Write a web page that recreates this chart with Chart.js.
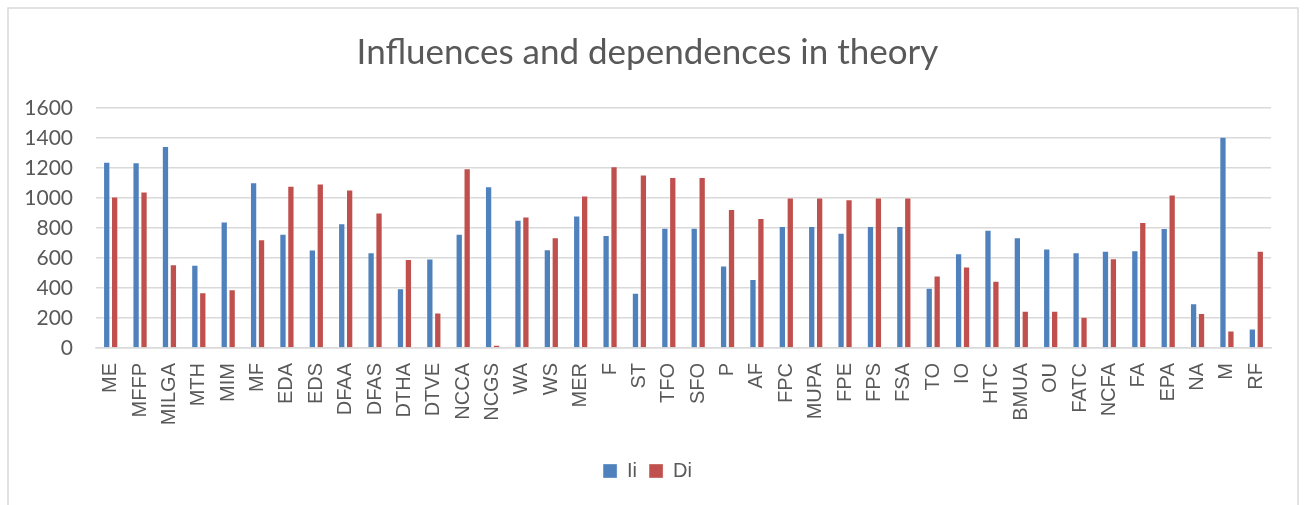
<!DOCTYPE html>
<html>
<head>
<meta charset="utf-8">
<script src="https://cdn.jsdelivr.net/npm/chart.js@4/dist/chart.umd.min.js"></script>
<style>
  html, body { margin: 0; padding: 0; background: #ffffff; }
  #wrap { position: relative; width: 1306px; height: 505px; }
</style>
</head>
<body>
<div id="wrap"><canvas id="chart" width="1306" height="505"></canvas></div>
<script>
const categories = ['ME','MFFP','MILGA','MTH','MIM','MF','EDA','EDS','DFAA','DFAS',
  'DTHA','DTVE','NCCA','NCGS','WA','WS','MER','F','ST','TFO',
  'SFO','P','AF','FPC','MUPA','FPE','FPS','FSA','TO','IO',
  'HTC','BMUA','OU','FATC','NCFA','FA','EPA','NA','M','RF'];

const influenceIi = [1242,1238,1346,555,844,1105,762,656,831,639,
  398,597,762,1078,855,659,884,754,369,802,
  802,550,460,813,813,769,813,813,402,632,
  789,738,663,639,648,652,800,298,1408,130];

const dependenceDi = [1010,1043,559,371,391,725,1081,1096,1056,904,
  594,236,1198,22,877,738,1017,1211,1156,1140,
  1140,926,866,1003,1003,992,1003,1003,484,544,
  449,248,248,208,599,840,1023,234,117,648];

const yTicks = [0,200,400,600,800,1000,1200,1400,1600];

const textGrey = '#595959';
const gridGrey = '#d9d9d9';

// white background plus the light outer frame of the chart
const framePlugin = {
  id: 'frame',
  beforeDraw(chart) {
    const ctx = chart.ctx;
    ctx.save();
    ctx.fillStyle = '#ffffff';
    ctx.fillRect(0, 0, chart.width, chart.height);
    ctx.strokeStyle = gridGrey;
    ctx.lineWidth = 1.5;
    ctx.strokeRect(8, 8, 1290, 520);
    ctx.restore();
  }
};

new Chart(document.getElementById('chart'), {
  type: 'bar',
  data: {
    labels: categories,
    datasets: [
      {
        label: 'Ii',
        data: influenceIi,
        backgroundColor: '#4F81BD',
        borderColor: 'rgba(255,255,255,0.35)',
        borderWidth: 1,
        categoryPercentage: 0.54,
        barPercentage: 0.92
      },
      {
        label: 'Di',
        data: dependenceDi,
        backgroundColor: '#C0504D',
        borderColor: 'rgba(255,255,255,0.35)',
        borderWidth: 1,
        categoryPercentage: 0.54,
        barPercentage: 0.92
      }
    ]
  },
  options: {
    responsive: false,
    animation: false,
    devicePixelRatio: 1,
    layout: { padding: { left: 24, right: 35, top: 0, bottom: 14 } },
    plugins: {
      title: {
        display: true,
        text: 'Influences and dependences in theory',
        color: textGrey,
        font: { family: 'Lato', size: 35, weight: '400' },
        padding: { top: 32, bottom: 34 }
      },
      legend: {
        display: true,
        position: 'bottom',
        labels: {
          color: textGrey,
          font: { family: 'Liberation Sans', size: 20 },
          boxWidth: 14,
          boxHeight: 14,
          padding: 12
        }
      },
      tooltip: { enabled: false }
    },
    scales: {
      x: {
        grid: { display: false, drawTicks: false },
        border: { display: true, color: gridGrey, width: 1.5 },
        ticks: {
          color: textGrey,
          font: { family: 'Liberation Sans', size: 20 },
          minRotation: 90,
          maxRotation: 90,
          autoSkip: false,
          padding: 15
        },
        afterFit(axis) { axis.height = 101; }
      },
      y: {
        min: yTicks[0],
        max: yTicks[yTicks.length - 1],
        grid: { color: gridGrey, lineWidth: 1.5, drawTicks: false },
        border: { display: false },
        ticks: {
          stepSize: yTicks[1] - yTicks[0],
          color: textGrey,
          font: { family: 'Lato', size: 21 },
          padding: 23,
          callback: (value) => String(value)
        },
        afterFit(axis) { axis.width = 72; }
      }
    }
  },
  plugins: [framePlugin]
});
</script>
</body>
</html>
